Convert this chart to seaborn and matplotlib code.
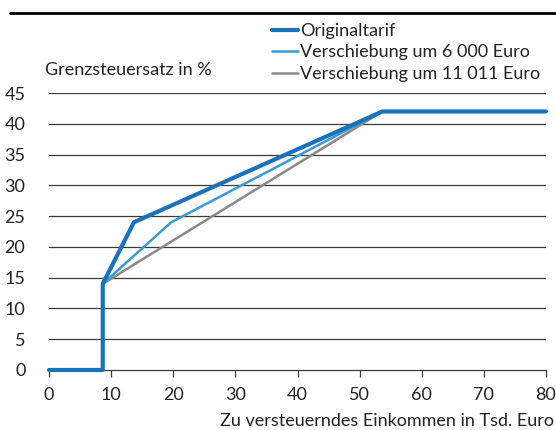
import pandas as pd
import seaborn as sns
import matplotlib.pyplot as plt
from matplotlib.lines import Line2D

# data: income (Tsd. Euro) vs marginal tax rate (%)
x_orig = [0, 8.652, 8.652, 13.669, 53.665, 80]
y_orig = [0, 0, 14, 24, 42, 42]
x_6000 = [8.652, 19.669, 53.665]
y_6000 = [14, 24, 42]
x_11011 = [8.652, 53.665]
y_11011 = [14, 42]

labels = ["Originaltarif", "Verschiebung um 6 000 Euro", "Verschiebung um 11 011 Euro"]
colors = ["#1a72b8", "#3a9ad6", "#8a8a8a"]
widths = [3.0, 1.8, 1.8]

sns.set_theme(style="white")
plt.rcParams["font.family"] = ["Lato", "DejaVu Sans"]
FS = 13

fig = plt.figure(figsize=(5.56, 4.30), dpi=100)
ax = fig.add_axes([49 / 556, 1 - 370 / 430, 497 / 556, 277 / 430])

# grid first
for yv in range(5, 50, 5):
    ax.axhline(yv, color="#3a3a3a", lw=0.9, zorder=1)

series = [(x_11011, y_11011), (x_6000, y_6000), (x_orig, y_orig)]
for i, (xs, ys) in zip([2, 1, 0], series):
    df = pd.DataFrame({"x": xs, "y": ys})
    sns.lineplot(data=df, x="x", y="y", sort=False, estimator=None, color=colors[i],
                 lw=widths[i], ax=ax, clip_on=False, zorder=3 + (2 - i))

ax.set_xlim(0, 80)
ax.set_ylim(0, 45)
ax.set_xticks(range(0, 81, 10))
ax.set_yticks(range(0, 46, 5))
for s in ["top", "right", "left"]:
    ax.spines[s].set_visible(False)
ax.spines["bottom"].set_color("#3a3a3a")
ax.spines["bottom"].set_linewidth(0.9)
ax.tick_params(axis="x", bottom=True, length=5, width=0.9, color="#3a3a3a",
               labelsize=FS, labelcolor="#222222", pad=7)
ax.tick_params(axis="y", left=False, labelsize=FS, labelcolor="#222222", pad=11)
ax.set_xlabel("")
ax.set_ylabel("")

fig.text(45 / 556, 1 - 70 / 430, "Grenzsteuersatz in %", fontsize=FS,
         color="#222222", va="center", ha="left")
fig.text(554 / 556, 1 - 421 / 430, "Zu versteuerndes Einkommen in Tsd. Euro",
         fontsize=FS, color="#222222", va="center", ha="right")

handles = [Line2D([], [], color=c, lw=w) for c, w in zip(colors, widths)]
fig.legend(handles, labels, loc="upper left", bbox_to_anchor=(272 / 556, 1 - 23 / 430),
           frameon=False, fontsize=FS, handlelength=1.45, handletextpad=0.12,
           labelspacing=0.3, borderaxespad=0, borderpad=0, labelcolor="#222222")

fig.add_artist(Line2D([10 / 556, 1.0], [1 - 13 / 430] * 2, color="black", lw=2))

fig.savefig("out.png", dpi=100)
